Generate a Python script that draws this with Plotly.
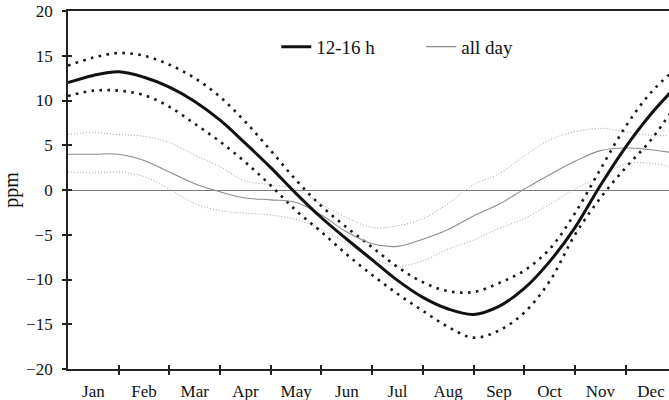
import plotly.graph_objects as go

# month position (0 = start of Jan, 12 = end of Dec), half-month steps
months_x = [0, 0.5, 1, 1.5, 2, 2.5, 3, 3.5, 4, 4.5, 5, 5.5, 6, 6.5, 7, 7.5, 8, 8.5,
            9, 9.5, 10, 10.5, 11, 11.5, 12]

mid_day = [12.0, 12.8, 13.2, 12.6, 11.5, 9.9, 7.8, 5.2, 2.5, -0.4, -3.1, -5.5, -7.8,
           -10.1, -12.0, -13.3, -13.9, -13.0, -11.0, -8.0, -4.2, 0.5, 4.8, 8.5, 11.6]
mid_day_hi = [13.9, 14.8, 15.3, 15.0, 14.0, 12.5, 10.4, 7.6, 4.4, 1.1, -1.8, -4.2, -6.4,
              -8.6, -10.3, -11.3, -11.4, -10.4, -9.0, -6.6, -2.6, 2.3, 7.1, 10.9, 13.6]
mid_day_lo = [10.5, 11.1, 11.1, 10.6, 9.3, 7.4, 5.4, 3.1, 0.5, -2.3, -4.7, -7.2, -9.5,
              -11.6, -13.5, -15.3, -16.5, -15.7, -13.7, -10.2, -5.0, -0.9, 2.5, 5.6, 9.6]

all_day = [4.0, 4.0, 4.0, 3.3, 2.0, 0.7, -0.2, -0.9, -1.1, -1.4, -2.8, -4.7, -6.0,
           -6.3, -5.5, -4.4, -2.9, -1.6, 0.1, 1.7, 3.2, 4.4, 4.7, 4.5, 4.1]
all_day_hi = [6.2, 6.4, 6.2, 6.0, 5.3, 3.9, 2.6, 1.0, 0.6, 0.1, -1.6, -3.1, -4.2,
              -4.0, -3.2, -1.5, 0.6, 1.8, 3.8, 5.6, 6.5, 6.9, 6.5, 6.1, 6.1]
all_day_lo = [2.0, 1.9, 2.0, 1.5, 0.1, -1.5, -2.3, -2.6, -2.8, -3.3, -4.4, -6.0, -7.6,
              -8.5, -7.9, -6.6, -5.6, -4.3, -3.2, -1.6, 0.1, 1.5, 2.9, 3.0, 2.4]

month_labels = ["Jan", "Feb", "Mar", "Apr", "May", "Jun", "Jul", "Aug", "Sep", "Oct", "Nov", "Dec"]
label_pos = [i + 0.5 for i in range(12)]
month_edges = list(range(1, 12))
y_ticks = [-20, -15, -10, -5, 0, 5, 10, 15, 20]

FONT = "Liberation Serif"
fig = go.Figure()

grey_dot = dict(color="#a0a0a0", width=1, dash="1px,2px")
black_dot = dict(color="#1a1a1a", width=2.6, dash="2.6px,5.4px")

fig.add_trace(go.Scatter(x=months_x, y=all_day_hi, mode="lines", line=grey_dot,
                         line_shape="spline", showlegend=False))
fig.add_trace(go.Scatter(x=months_x, y=all_day_lo, mode="lines", line=grey_dot,
                         line_shape="spline", showlegend=False))
fig.add_trace(go.Scatter(x=months_x, y=mid_day_hi, mode="lines", line=black_dot,
                         line_shape="spline", showlegend=False))
fig.add_trace(go.Scatter(x=months_x, y=mid_day_lo, mode="lines", line=black_dot,
                         line_shape="spline", showlegend=False))
fig.add_trace(go.Scatter(x=months_x, y=all_day, mode="lines", name="all day",
                         line=dict(color="#8c8c8c", width=1.1), line_shape="spline",
                         legendrank=2))
fig.add_trace(go.Scatter(x=months_x, y=mid_day, mode="lines", name="12-16 h",
                         line=dict(color="#111111", width=3), line_shape="spline",
                         xaxis="x2", yaxis="y2", legendrank=1))

xr = [0, 11.855]
fig.update_layout(
    width=669, height=400,
    margin=dict(l=68, r=0, t=11, b=31),
    paper_bgcolor="white", plot_bgcolor="white",
    font=dict(family=FONT, size=17, color="#111"),
    showlegend=True,
    legend=dict(orientation="h", x=0.3465, y=0.90, xanchor="left", yanchor="middle",
                font=dict(family=FONT, size=19, color="#111"),
                bgcolor="rgba(0,0,0,0)", entrywidth=100, entrywidthmode="pixels"),
    xaxis=dict(range=xr, tickmode="array", tickvals=label_pos, ticktext=month_labels,
               ticks="", showgrid=False, zeroline=False, showline=True,
               linecolor="#222", linewidth=1.8, mirror=True,
               minor=dict(tickmode="array", tickvals=month_edges, ticks="outside",
                          ticklen=4, tickwidth=1.5, tickcolor="#222"),
               ticklabelstandoff=6),
    yaxis=dict(range=[-20, 20], tickmode="array", tickvals=y_ticks,
               ticks="outside", ticklen=4, tickwidth=1.5, tickcolor="#222",
               showgrid=False, showline=True, linecolor="#222", linewidth=1.8,
               zeroline=True, zerolinecolor="#7a7a7a", zerolinewidth=1,
               ticklabelstandoff=6,
               title=dict(text="ppm", font=dict(family=FONT, size=20), standoff=10)),
    xaxis2=dict(range=xr, overlaying="x", anchor="y2", side="bottom",
                tickmode="array", tickvals=month_edges, ticks="inside", ticklen=4,
                tickwidth=1.5, tickcolor="#222", showticklabels=False,
                showgrid=False, zeroline=False, showline=False),
    yaxis2=dict(range=[-20, 20], overlaying="y", anchor="x2", side="left",
                tickmode="array", tickvals=y_ticks, ticks="inside", ticklen=4,
                tickwidth=1.5, tickcolor="#222", showticklabels=False,
                showgrid=False, zeroline=False, showline=False),
)

fig.write_html("out.html")
